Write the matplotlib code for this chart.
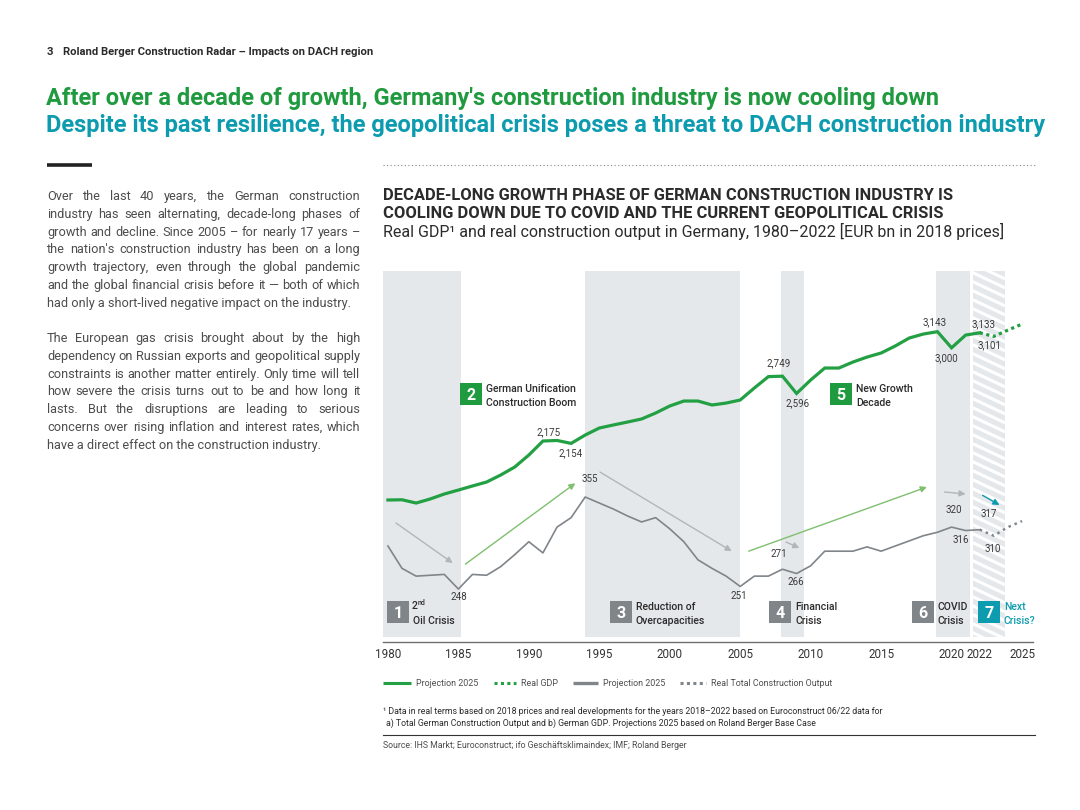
import numpy as np
import matplotlib.pyplot as plt
from matplotlib.font_manager import FontProperties
from matplotlib.patches import Rectangle
from matplotlib.lines import Line2D
from matplotlib.collections import LineCollection

W, H, DPI = 1080, 810, 100
FONT = 'Roboto'
plt.rcParams['font.family'] = [FONT, 'DejaVu Sans']

GREEN = '#23a043'
GREEN_T = '#1f9a3e'
TEAL = '#0d9bb0'
GREY = '#80858a'
BAND = '#e5e8eb'
DARK = '#2b2b2b'
TXT = '#4d4d4d'

# data ----------------------------------------------------------------
years = list(range(1980, 2026))
gdp = [1653, 1655, 1626, 1662, 1706, 1741, 1777, 1812, 1874, 1945,
       2051, 2175, 2180, 2154, 2228, 2290, 2317, 2343, 2370, 2423,
       2485, 2529, 2529, 2494, 2511, 2538, 2644, 2745, 2749, 2596,
       2715, 2821, 2821, 2874, 2918, 2954, 3016, 3087, 3122, 3143,
       3000, 3113, 3133, 3101, 3157, 3210]
constr = [298, 272, 263, 264, 265, 248, 265, 264, 274, 288,
          303, 290, 320, 331, 355, 348, 341, 333, 326, 331,
          318, 303, 282, 272, 263, 251, 263, 263, 271, 266,
          275, 292, 292, 292, 297, 292, 298, 304, 310, 314,
          320, 316, 317, 310, 320, 327]
last_actual = 2022

# labelled points: year, label offset in pixels (dx, dy up)
gdp_labels = [(1991, 6, 10), (1993, 0, -9), (2008, -4, 14), (2009, 1, -9),
              (2019, -3, 10), (2020, -5, -9), (2022, 4, 10), (2023, -4, -8)]
constr_labels = [(1985, 0, -7), (1994, 5, 19), (2005, -1, -9), (2008, -4, 16),
                 (2009, -1, -7), (2020, 2, 18), (2021, -5, -8), (2022, 9, 17),
                 (2023, -1, -12)]

# crisis phases (shaded)
bands = [(1979.65, 1985.18), (1993.98, 2004.98), (2007.9, 2009.5), (2018.9, 2021.3)]
future_band = (2021.5, 2023.8)

tick_years = [1980, 1985, 1990, 1995, 2000, 2005, 2010, 2015, 2020, 2022, 2025]

fig = plt.figure(figsize=(W / DPI, H / DPI), dpi=DPI)
renderer = fig.canvas.get_renderer()


def fx(px):
    return px / W


def fy(py):
    return 1 - py / H


def width_px(s, size, weight='normal'):
    fp = FontProperties(family=FONT, size=size, weight=weight)
    w, _, _ = renderer.get_text_width_height_descent(s, fp, ismath=False)
    return w


def fit(s, target, weight='normal'):
    return 10 * target / width_px(s, 10, weight)


def ftext(px, py, s, **kw):
    kw.setdefault('va', 'center_baseline')
    return fig.text(fx(px), fy(py), s, **kw)


def hline(x0, x1, y, **kw):
    fig.add_artist(Line2D([fx(x0), fx(x1)], [fy(y), fy(y)], transform=fig.transFigure, **kw))


# header --------------------------------------------------------------
hs = fit('Roland Berger Construction Radar – Impacts on DACH region', 312, 'bold')
ftext(47, 51, '3', fontsize=hs, weight='bold', color=DARK)
ftext(63, 51, 'Roland Berger Construction Radar – Impacts on DACH region',
      fontsize=hs, weight='bold', color=DARK)

t1 = "After over a decade of growth, Germany's construction industry is now cooling down"
t2 = "Despite its past resilience, the geopolitical crisis poses a threat to DACH construction industry"
ts = (fit(t1, 908, 'bold') + fit(t2, 986, 'bold')) / 2
ftext(46, 96, t1, fontsize=ts, weight='bold', color=GREEN_T)
ftext(46, 123, t2, fontsize=ts, weight='bold', color=TEAL)

hline(47, 92, 165, color='#222222', lw=2.6, solid_capstyle='butt')
hline(383, 1035, 165, color='#8a8a8a', lw=0.8, linestyle=(0, (1, 2.2)))

# body text, justified -------------------------------------------------
para1 = ["Over the last 40 years, the German construction",
         "industry has seen alternating, decade-long phases of",
         "growth and decline. Since 2005 – for nearly 17 years –",
         "the nation's construction industry has been on a long",
         "growth trajectory, even through the global pandemic",
         "and the global financial crisis before it — both of which",
         "had only a short-lived negative impact on the industry."]
para2 = ["The European gas crisis brought about by the high",
         "dependency on Russian exports and geopolitical supply",
         "constraints is another matter entirely. Only time will tell",
         "how severe the crisis turns out to be and how long it",
         "lasts. But the disruptions are leading to serious",
         "concerns over rising inflation and interest rates, which",
         "have a direct effect on the construction industry."]
bx0, bx1 = 47, 360
bs = min(fit(l, bx1 - bx0) for l in para1 + para2)


def justify(lines, y0, step=17.8):
    for i, line in enumerate(lines):
        y = y0 + i * step
        if i == len(lines) - 1:
            ftext(bx0, y, line, fontsize=bs, color=TXT)
            continue
        words = line.split(' ')
        ws = [width_px(w, bs) for w in words]
        gap = (bx1 - bx0 - sum(ws)) / (len(words) - 1)
        x = bx0
        for w, wd in zip(words, ws):
            ftext(x, y, w, fontsize=bs, color=TXT)
            x += wd + gap


justify(para1, 195)
justify(para2, 337)

# chart titles ---------------------------------------------------------
c1 = 'DECADE-LONG GROWTH PHASE OF GERMAN CONSTRUCTION INDUSTRY IS'
c2 = 'COOLING DOWN DUE TO COVID AND THE CURRENT GEOPOLITICAL CRISIS'
cs = fit(c1, 568, 'bold')
ftext(383, 194, c1, fontsize=cs, weight='bold', color=DARK)
ftext(383, 212, c2, fontsize=cs, weight='bold', color=DARK)
sub = 'Real GDP¹ and real construction output in Germany, 1980–2022 [EUR bn in 2018 prices]'
ftext(383, 230, sub, fontsize=fit(sub, 621), color=DARK)

# chart ----------------------------------------------------------------
ax = fig.add_axes([fx(383), fy(642), (1033 - 383) / W, (642 - 271) / H])
ax.set_xlim(1979.65, 2025.78)
ax.set_ylim(396, 3680)
ax2 = ax.twinx()
ax2.set_ylim(186.4, 617.8)

for a in (ax, ax2):
    for s in ('top', 'right', 'left'):
        a.spines[s].set_visible(False)
    a.set_yticks([])
ax2.spines['bottom'].set_visible(False)
ax.spines['bottom'].set_color('#6e6e6e')
ax.spines['bottom'].set_linewidth(1.0)

for x0, x1 in bands:
    ax.axvspan(x0, x1, ymin=0.013, ymax=1, color=BAND, lw=0, zorder=0)
fb = ax.axvspan(*future_band, ymin=0.013, ymax=1, color=BAND, lw=0, zorder=0)

# white diagonal stripes inside projection band
xl = ax.get_xlim()
ax_w, ax_h = 650.0, 371.0
ax0 = (future_band[0] - xl[0]) / (xl[1] - xl[0])
ax1_ = (future_band[1] - xl[0]) / (xl[1] - xl[0])
drop = 0.47 * (ax1_ - ax0) * ax_w / ax_h
segs = []
for k in np.arange(1.1, -0.1, -9.0 / ax_h):
    segs.append([(ax0, k + drop), (ax1_, k)])
lc = LineCollection(segs, colors='white', linewidths=2.2, transform=ax.transAxes, zorder=0.5)
lc.set_clip_path(fb)
ax.add_collection(lc)

idx = years.index(last_actual)
ax.plot(years[:idx + 1], gdp[:idx + 1], color=GREEN, lw=2.3, solid_joinstyle='miter', zorder=3)
ax.plot(years[idx:], gdp[idx:], color=GREEN, lw=2.3, linestyle=(0, (1, 1.1)), zorder=3)
ax2.plot(years[:idx + 1], constr[:idx + 1], color=GREY, lw=1.2, zorder=3)
ax2.plot(years[idx:], constr[idx:], color=GREY, lw=1.8, linestyle=(0, (1, 1.6)), zorder=3)

for yr, dx, dy in gdp_labels:
    v = gdp[years.index(yr)]
    ax.annotate(f'{v:,}', (yr, v), xytext=(dx, dy), textcoords='offset pixels',
                ha='center', va='center_baseline', fontsize=7, color='#3a3a3a', zorder=4)
for yr, dx, dy in constr_labels:
    v = constr[years.index(yr)]
    ax2.annotate(f'{v:,}', (yr, v), xytext=(dx, dy), textcoords='offset pixels',
                 ha='center', va='center_baseline', fontsize=7, color='#3a3a3a', zorder=4)

# trend arrows (construction scale)
arrows = [((1980.57, 324.8), (1984.6, 278.2), '#b3b6b9'),
          ((1985.5, 277.0), (1993.3, 371.0), '#7fbf6f'),
          ((1995.05, 384.0), (2004.4, 292.0), '#b3b6b9'),
          ((2008.25, 302.7), (2009.2, 295.7), '#b3b6b9'),
          ((2005.6, 292.0), (2018.25, 366.6), '#7fbf6f'),
          ((2019.5, 360.8), (2021.0, 358.5), '#b3b6b9'),
          ((2022.2, 357.0), (2023.4, 345.7), TEAL)]
for start, end, col in arrows:
    ax2.annotate('', xy=end, xytext=start,
                 arrowprops=dict(arrowstyle='-|>', color=col, lw=1.0,
                                 mutation_scale=9, shrinkA=0, shrinkB=0), zorder=2)

ax.set_xticks(tick_years)
ax.set_xticklabels([str(y) for y in tick_years])
ax.tick_params(axis='x', length=0, pad=4, labelsize=fit('2005', 26), labelcolor='#333333')


# phase boxes ------------------------------------------------------------
def phase_box(left, top, num, color, lines, tcolor=DARK, size=22):
    fig.add_artist(Rectangle((fx(left), fy(top + size)), size / W, size / H,
                             transform=fig.transFigure, color=color, lw=0))
    ftext(left + size / 2, top + size / 2, num, ha='center', fontsize=11.5,
          weight='bold', color='white')
    for j, l in enumerate(lines):
        if l:
            ftext(left + size + 4, top + 5 + j * 13.5, l, fontsize=7.6,
                  weight='medium', color=tcolor)


phase_box(387, 601, '1', GREY, ['', 'Oil Crisis'])
ftext(412, 605, '2', fontsize=7.6, weight='medium', color=DARK)
ftext(412 + width_px('2', 7.6, 'medium'), 602, 'nd', fontsize=5, weight='medium', color=DARK)
phase_box(460, 383, '2', GREEN_T, ['German Unification', 'Construction Boom'])
phase_box(610, 601, '3', GREY, ['Reduction of', 'Overcapacities'])
phase_box(769, 601, '4', GREY, ['Financial', 'Crisis'])
phase_box(830, 383, '5', GREEN_T, ['New Growth', 'Decade'])
phase_box(912, 601, '6', GREY, ['COVID', 'Crisis'])
phase_box(978, 601, '7', TEAL, ['Next', 'Crisis?'], tcolor=TEAL)

# legend ---------------------------------------------------------------
ls = fit('Real Total Construction Output', 121)
legend = [(383, 411, GREEN, 2.2, '-', 'Projection 2025'),
          (494, 516, GREEN, 2.2, (0, (1, 1.1)), 'Real GDP'),
          (573, 598, GREY, 2.4, '-', 'Projection 2025'),
          (680, 706, GREY, 2.2, (0, (1, 1.1)), 'Real Total Construction Output')]
for x0, x1, col, lw, st, lab in legend:
    hline(x0, x1, 683, color=col, lw=lw, linestyle=st, solid_capstyle='butt')
    ftext(x1 + 5, 683, lab, fontsize=ls, color=TXT)

# footnote and source ------------------------------------------------------
f1 = '¹ Data in real terms based on 2018 prices and real developments for the years 2018–2022 based on Euroconstruct 06/22 data for'
f2 = 'a) Total German Construction Output and b) German GDP. Projections 2025 based on Roland Berger Base Case'
fs = fit(f1, 506)
ftext(383, 711, f1, fontsize=fs, color=DARK)
ftext(386, 722, f2, fontsize=fs, color=DARK)
hline(383, 1035, 735, color='#333333', lw=0.8)
ftext(383, 745, 'Source: IHS Markt; Euroconstruct; ifo Geschäftsklimaindex; IMF; Roland Berger',
      fontsize=fs, color=TXT)

fig.savefig('out.png', dpi=DPI, facecolor='white')
